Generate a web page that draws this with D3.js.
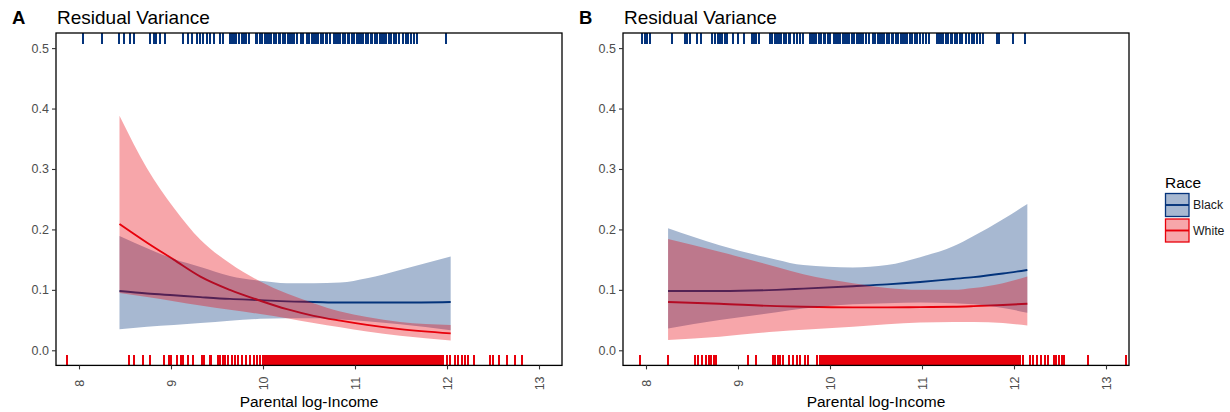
<!DOCTYPE html>
<html><head><meta charset="utf-8">
<script src="https://cdn.jsdelivr.net/npm/d3@7"></script>
<style>body{margin:0;background:#fff}svg{display:block;font-family:"Liberation Sans",Arial,sans-serif}</style>
</head><body><svg id="c" width="1230" height="412"></svg>
<script>
// ---------------- data ----------------
const panels = ["A", "B"];
const titleText = "Residual Variance";
const xLabel = "Parental log-Income";
const legendTitle = "Race";
const groups = ["Black", "White"];
const xTicks = [8, 9, 10, 11, 12, 13];
const yTicks = [0, 0.1, 0.2, 0.3, 0.4, 0.5];

// Panel A smooth fits
const xA = [8.44, 8.74, 9.03, 9.32, 9.64, 9.97, 10.26, 10.55, 10.84, 11.13, 11.49, 12.04];
const blackFitA   = [0.098, 0.094, 0.091, 0.088, 0.085, 0.083, 0.081, 0.080, 0.079, 0.079, 0.079, 0.080];
const blackLowerA = [0.035, 0.039, 0.042, 0.045, 0.049, 0.052, 0.053, 0.053, 0.051, 0.048, 0.043, 0.033];
const blackUpperA = [0.189, 0.169, 0.151, 0.138, 0.123, 0.115, 0.111, 0.111, 0.112, 0.119, 0.133, 0.155];
const whiteFitA   = [0.209, 0.178, 0.150, 0.122, 0.100, 0.082, 0.068, 0.057, 0.049, 0.042, 0.035, 0.028];
const whiteLowerA = [0.095, 0.088, 0.081, 0.074, 0.067, 0.060, 0.053, 0.045, 0.038, 0.031, 0.024, 0.016];
const whiteUpperA = [0.388, 0.301, 0.236, 0.183, 0.144, 0.114, 0.094, 0.078, 0.064, 0.055, 0.047, 0.042];

// Panel B smooth fits
const xB = [8.24, 8.80, 9.42, 9.71, 10.25, 10.62, 10.98, 11.34, 11.56, 11.88, 12.145];
const blackFitB   = [0.098, 0.098, 0.100, 0.102, 0.106, 0.109, 0.113, 0.118, 0.121, 0.127, 0.133];
const blackLowerB = [0.036, 0.050, 0.063, 0.069, 0.076, 0.078, 0.079, 0.078, 0.076, 0.070, 0.062];
const blackUpperB = [0.202, 0.174, 0.150, 0.141, 0.137, 0.141, 0.154, 0.172, 0.189, 0.217, 0.242];
const whiteFitB   = [0.080, 0.077, 0.073, 0.072, 0.071, 0.071, 0.0715, 0.072, 0.073, 0.075, 0.077];
const whiteLowerB = [0.017, 0.0225, 0.031, 0.034, 0.039, 0.043, 0.046, 0.047, 0.047, 0.045, 0.041];
const whiteUpperB = [0.184, 0.163, 0.138, 0.126, 0.111, 0.103, 0.100, 0.100, 0.103, 0.111, 0.122];

// Rug values (parental log-income of observations)
const blackRugA = [8.04, 8.25, 8.44, 8.49, 8.55, 8.60, 8.77, 8.81, 8.84, 8.88, 8.93, 9.13, 9.18, 9.23, 9.28, 9.32, 9.35, 9.39, 9.42, 9.47, 9.53, 9.57,
  9.64, 9.66, 9.69, 9.71, 9.74, 9.77, 9.79, 9.82, 9.85, 9.92, 9.94, 9.97, 9.99, 10.02, 10.04, 10.07, 10.09, 10.12, 10.14, 10.17, 10.19, 10.22, 10.24,
  10.27, 10.29, 10.32, 10.34, 10.37, 10.41, 10.43, 10.48, 10.50, 10.53, 10.55, 10.58, 10.60, 10.63, 10.65, 10.68, 10.70, 10.73, 10.77, 10.79, 10.82,
  10.84, 10.87, 10.89, 10.92, 10.94, 10.97, 10.99, 11.02, 11.04, 11.07, 11.09, 11.12, 11.14, 11.17, 11.19, 11.22, 11.24, 11.27, 11.29, 11.32, 11.34,
  11.37, 11.39, 11.42, 11.45, 11.48, 11.52, 11.55, 11.58, 11.61, 11.64, 11.67, 11.99];
const whiteRugA = [7.87, 8.54, 8.60, 8.70, 8.77, 8.92, 8.98, 9.00, 9.06, 9.11, 9.13, 9.19, 9.24, 9.34, 9.36, 9.42, 9.44, 9.51, 9.53, 9.56, 9.59, 9.62,
  9.66, 9.70, 9.73, 9.77, 9.82, 9.86, 9.90, 9.93, 9.97,
  10.00, 10.02, 10.04, 10.06, 10.08, 10.10, 10.12, 10.14, 10.16, 10.18, 10.20, 10.22, 10.24, 10.26, 10.28, 10.30, 10.32, 10.34, 10.36, 10.38,
  10.40, 10.42, 10.44, 10.46, 10.48, 10.50, 10.52, 10.54, 10.56, 10.58, 10.60, 10.62, 10.64, 10.66, 10.68, 10.70, 10.72, 10.74, 10.76, 10.78,
  10.80, 10.82, 10.84, 10.86, 10.88, 10.90, 10.92, 10.94, 10.96, 10.98, 11.00, 11.02, 11.04, 11.06, 11.08, 11.10, 11.12, 11.14, 11.16, 11.18,
  11.20, 11.22, 11.24, 11.26, 11.28, 11.30, 11.32, 11.34, 11.36, 11.38, 11.40, 11.42, 11.44, 11.46, 11.48, 11.50, 11.52, 11.54, 11.56, 11.58,
  11.60, 11.62, 11.64, 11.66, 11.68, 11.70, 11.72, 11.74, 11.76, 11.78, 11.80, 11.82, 11.84, 11.86, 11.88, 11.90, 11.92, 11.94, 11.96,
  12.00, 12.03, 12.09, 12.12, 12.16, 12.20, 12.23, 12.29, 12.47, 12.50, 12.56, 12.65, 12.74, 12.81];
const blackRugB = [7.96, 7.99, 8.01, 8.04, 8.28, 8.42, 8.45, 8.48, 8.55, 8.60, 8.72, 8.75, 8.78, 8.80, 8.83, 8.86, 8.88, 8.95, 9.00, 9.06, 9.15, 9.17, 9.20, 9.23,
  9.35, 9.37, 9.40, 9.42, 9.45, 9.47, 9.50, 9.52, 9.55, 9.57, 9.61, 9.64, 9.67, 9.71, 9.78, 9.80, 9.83, 9.85, 9.88, 9.90, 9.93, 9.95, 9.98, 10.00,
  10.04, 10.06, 10.09, 10.11, 10.14, 10.16, 10.19, 10.21, 10.24, 10.26, 10.29, 10.31, 10.34, 10.36, 10.39, 10.42, 10.47, 10.49, 10.52, 10.54,
  10.57, 10.59, 10.62, 10.64, 10.67, 10.69, 10.72, 10.74, 10.77, 10.79, 10.82, 10.84, 10.87, 10.89, 10.92, 10.95, 10.98, 11.01, 11.04, 11.08,
  11.16, 11.18, 11.21, 11.23, 11.26, 11.28, 11.31, 11.33, 11.36, 11.38, 11.41, 11.44, 11.48, 11.51, 11.54, 11.57, 11.60, 11.63, 11.66,
  11.81, 11.84, 11.99, 12.12];
const whiteRugB = [7.93, 8.24, 8.53, 8.57, 8.61, 8.65, 8.69, 8.71, 8.74, 8.76, 9.11, 9.20, 9.38, 9.40, 9.43, 9.46, 9.49, 9.55, 9.60, 9.64, 9.67, 9.73, 9.76,
  9.86, 9.89, 9.91, 9.93, 9.95, 9.97, 9.99, 10.01, 10.03, 10.05, 10.07, 10.09, 10.11, 10.13, 10.15, 10.17, 10.19, 10.21, 10.23, 10.25, 10.27,
  10.29, 10.31, 10.33, 10.35, 10.37, 10.39, 10.41, 10.43, 10.45, 10.47, 10.49, 10.51, 10.53, 10.55, 10.57, 10.59, 10.61, 10.63, 10.65, 10.67,
  10.69, 10.71, 10.73, 10.75, 10.77, 10.79, 10.81, 10.83, 10.85, 10.87, 10.89, 10.91, 10.93, 10.95, 10.97, 10.99, 11.01, 11.03, 11.05, 11.07,
  11.09, 11.11, 11.13, 11.15, 11.17, 11.19, 11.21, 11.23, 11.25, 11.27, 11.29, 11.31, 11.33, 11.35, 11.37, 11.39, 11.41, 11.43, 11.45, 11.47,
  11.49, 11.51, 11.53, 11.55, 11.57, 11.59, 11.61, 11.63, 11.65, 11.67, 11.69, 11.71, 11.73, 11.75, 11.77, 11.79, 11.81, 11.83, 11.85, 11.87,
  11.89, 11.91, 11.93, 11.95, 11.97, 11.99, 12.01, 12.03, 12.05, 12.07, 12.10,
  12.17, 12.21, 12.25, 12.29, 12.34, 12.37, 12.43, 12.46, 12.49, 12.52, 12.54, 12.80, 13.22];

// ---------------- styling / layout ----------------
const colors = {Black: "#04337b", White: "#e8000b"};
const fillAlpha = 0.35;
const svg = d3.select("#c");
const plotTop = 33, plotBottom = 365.4;
const layout = [
  {id: "A", left: 56, right: 562, labelX: 12, x: xA,
   black: {fit: blackFitA, lo: blackLowerA, hi: blackUpperA, rug: blackRugA},
   white: {fit: whiteFitA, lo: whiteLowerA, hi: whiteUpperA, rug: whiteRugA}},
  {id: "B", left: 623, right: 1129, labelX: 579, x: xB,
   black: {fit: blackFitB, lo: blackLowerB, hi: blackUpperB, rug: blackRugB},
   white: {fit: whiteFitB, lo: whiteLowerB, hi: whiteUpperB, rug: whiteRugB}}
];

layout.forEach((P) => {
  const x = d3.scaleLinear().domain([7.75, 13.25]).range([P.left, P.right]);
  const y = d3.scaleLinear().domain([-0.025, 0.525]).range([plotBottom, plotTop]);
  const g = svg.append("g");
  const clipId = "clip" + P.id;
  svg.append("clipPath").attr("id", clipId).append("rect")
    .attr("x", P.left).attr("y", plotTop).attr("width", P.right - P.left).attr("height", plotBottom - plotTop);
  const plot = g.append("g").attr("clip-path", `url(#${clipId})`);

  const area = d3.area().curve(d3.curveMonotoneX)
    .x(d => x(d.x)).y0(d => y(d.lo)).y1(d => y(d.hi));
  const line = d3.line().curve(d3.curveMonotoneX).x(d => x(d.x)).y(d => y(d.v));

  // rugs
  const rugLen = 10.5;
  plot.append("g").attr("shape-rendering", "crispEdges").selectAll("line").data(P.black.rug).join("line")
    .attr("x1", d => x(d)).attr("x2", d => x(d)).attr("y1", plotTop).attr("y2", plotTop + rugLen)
    .attr("stroke", colors.Black).attr("stroke-width", 2);
  plot.append("g").attr("shape-rendering", "crispEdges").selectAll("line").data(P.white.rug).join("line")
    .attr("x1", d => x(d)).attr("x2", d => x(d)).attr("y1", plotBottom - rugLen).attr("y2", plotBottom)
    .attr("stroke", colors.White).attr("stroke-width", 2);

  const series = [["Black", P.black], ["White", P.white]].map(([name, s]) =>
    ({name, pts: P.x.map((xv, i) => ({x: xv, lo: s.lo[i], hi: s.hi[i], v: s.fit[i]}))}));
  // fitted lines first, translucent ribbons on top
  series.forEach(s => {
    plot.append("path").datum(s.pts).attr("d", line)
      .attr("fill", "none").attr("stroke", colors[s.name]).attr("stroke-width", 1.9);
  });
  series.forEach(s => {
    plot.append("path").datum(s.pts).attr("d", area)
      .attr("fill", colors[s.name]).attr("fill-opacity", fillAlpha);
  });

  // border
  g.append("rect").attr("x", P.left).attr("y", plotTop).attr("width", P.right - P.left).attr("height", plotBottom - plotTop)
    .attr("fill", "none").attr("stroke", "#000").attr("stroke-width", 1.3);

  // y axis
  const ya = g.append("g").attr("transform", `translate(${P.left},0)`)
    .call(d3.axisLeft(y).tickValues(yTicks).tickFormat(d3.format(".1f")).tickSize(4).tickPadding(3));
  ya.select(".domain").remove();
  ya.selectAll("line").attr("stroke", "#333").attr("stroke-width", 1.1);
  ya.selectAll("text").attr("fill", "#4d4d4d").attr("font-size", 12.5)
    .attr("font-family", '"Liberation Sans",Arial,sans-serif');

  // x axis
  const xa = g.append("g").attr("transform", `translate(0,${plotBottom})`)
    .call(d3.axisBottom(x).tickValues(xTicks).tickFormat(d3.format("d")).tickSize(4));
  xa.select(".domain").remove();
  xa.selectAll("line").attr("stroke", "#333").attr("stroke-width", 1.1);
  xa.selectAll("text").attr("fill", "#4d4d4d").attr("font-size", 12.5)
    .attr("font-family", '"Liberation Sans",Arial,sans-serif')
    .attr("dy", null).attr("y", 0)
    .attr("text-anchor", "middle").attr("dominant-baseline", "central")
    .attr("transform", "translate(0,18) rotate(-90)");

  // titles
  svg.append("text").attr("x", P.labelX).attr("y", 24).text(P.id)
    .attr("font-size", 18.5).attr("font-weight", "bold").attr("fill", "#000");
  svg.append("text").attr("x", P.left + 1).attr("y", 24).text(titleText)
    .attr("font-size", 19).attr("fill", "#000");
  svg.append("text").attr("x", (P.left + P.right) / 2).attr("y", 407).text(xLabel)
    .attr("text-anchor", "middle").attr("font-size", 15.5).attr("fill", "#000");
});

// legend
const lg = svg.append("g");
lg.append("text").attr("x", 1165).attr("y", 188).text(legendTitle).attr("font-size", 15.5).attr("fill", "#000");
groups.forEach((name, i) => {
  const ky = 193.5 + i * 25.5;
  lg.append("rect").attr("x", 1165.5).attr("y", ky).attr("width", 23.5).attr("height", 23)
    .attr("fill", colors[name]).attr("fill-opacity", fillAlpha)
    .attr("stroke", colors[name]).attr("stroke-width", 1.3);
  lg.append("line").attr("x1", 1165.5).attr("x2", 1189).attr("y1", ky + 11.5).attr("y2", ky + 11.5)
    .attr("stroke", colors[name]).attr("stroke-width", 1.9);
  lg.append("text").attr("x", 1193).attr("y", ky + 11.5).attr("dominant-baseline", "central")
    .text(name).attr("font-size", 12.3).attr("fill", "#1a1a1a");
});
</script></body></html>
